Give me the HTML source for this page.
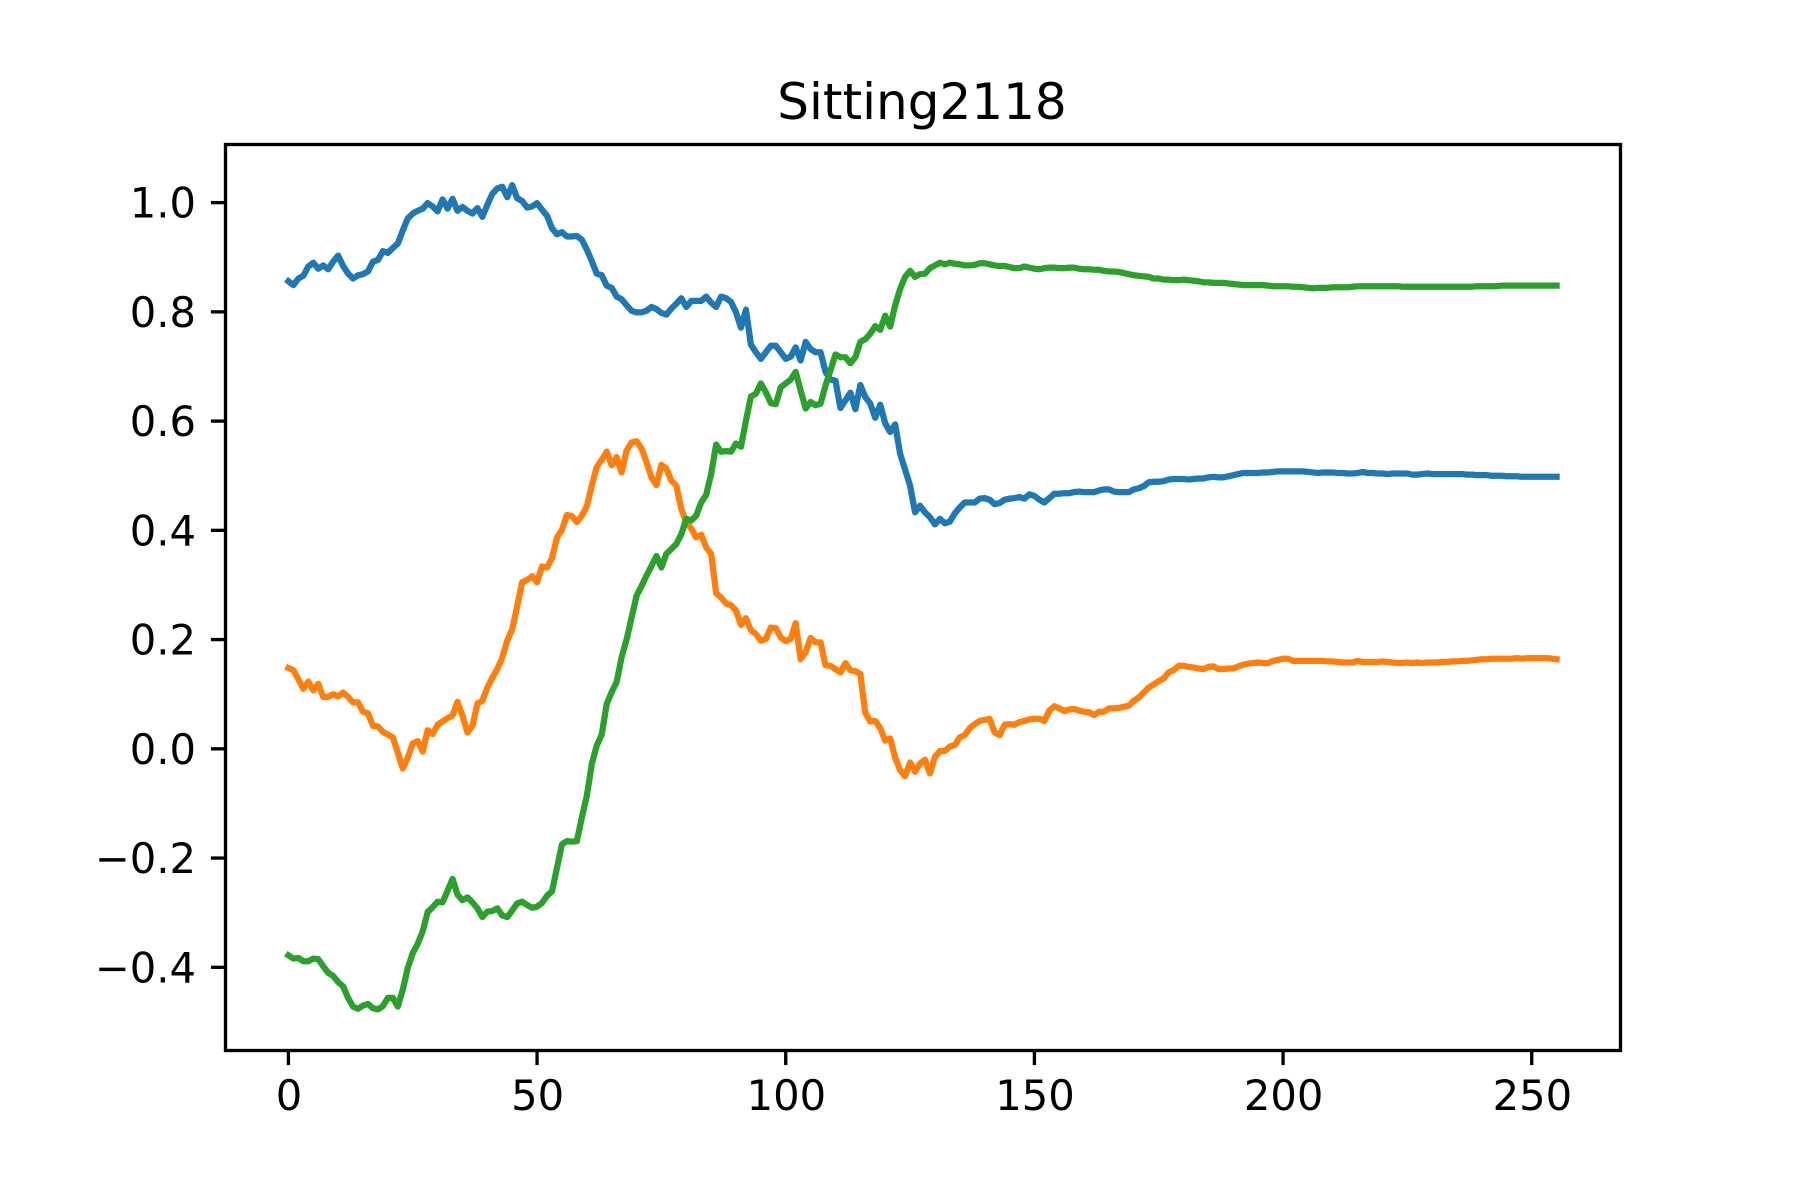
<!DOCTYPE html>
<html lang="en">
<head>
<meta charset="utf-8">
<title>Sitting2118</title>
<style>
  html, body { margin: 0; padding: 0; background: #ffffff; }
  #chart { display: block; width: 1800px; height: 1200px; }
  text { font-family: "DejaVu Sans", "Liberation Sans", sans-serif; fill: #000000; }
</style>
</head>
<body>
<svg id="chart" xmlns="http://www.w3.org/2000/svg" width="1800" height="1200" viewBox="0 0 1800 1200">
  <rect x="0" y="0" width="1800" height="1200" fill="#ffffff"></rect>
  <g id="series-layer"></g>
  <g id="tick-layer"></g>
  <rect x="225.5" y="144.5" width="1395" height="906" fill="none" stroke="#000000" stroke-width="3.33"></rect>
  <text x="922" y="119" font-size="50" text-anchor="middle">Sitting2118</text>
</svg>
<script>
const xTickValues = [0, 50, 100, 150, 200, 250];
const xTickLabels = ["0", "50", "100", "150", "200", "250"];
const yTickValues = [-0.4, -0.2, 0, 0.2, 0.4, 0.6, 0.8, 1.0];
const yTickLabels = ["\u22120.4", "\u22120.2", "0.0", "0.2", "0.4", "0.6", "0.8", "1.0"];

const seriesBlue = [
  .856,.849,.861,.866,.883,.890,.879,.885,.878,.892,
  .903,.884,.870,.861,.867,.869,.874,.892,.895,.911,
  .908,.917,.925,.949,.971,.980,.985,.989,.999,.993,
  .984,1.006,.989,1.007,.985,.992,.985,.980,.990,.974,
  .996,1.016,1.026,1.029,1.010,1.032,1.008,1.003,.991,.993,
  .999,.987,.976,.953,.942,.946,.938,.938,.939,.932,
  .914,.893,.870,.867,.848,.844,.828,.823,.812,.802,
  .799,.799,.802,.809,.805,.798,.795,.806,.815,.825,
  .809,.820,.820,.820,.828,.817,.809,.828,.825,.818,
  .799,.771,.804,.740,.726,.714,.726,.738,.738,.726,
  .714,.718,.735,.711,.745,.732,.726,.726,.690,.676,
  .674,.624,.638,.652,.622,.666,.644,.632,.606,.630,
  .596,.580,.594,.540,.511,.482,.433,.445,.433,.424,
  .411,.421,.413,.416,.431,.442,.451,.451,.451,.458,
  .459,.456,.448,.450,.456,.458,.459,.461,.458,.466,
  .463,.456,.451,.459,.467,.467,.468,.468,.470,.471,
  .470,.470,.470,.473,.475,.475,.471,.470,.470,.470,
  .475,.477,.481,.488,.489,.489,.490,.493,.494,.494,
  .494,.493,.494,.495,.495,.497,.498,.497,.497,.499,
  .501,.503,.505,.505,.505,.505,.506,.506,.507,.508,
  .508,.508,.508,.508,.508,.507,.506,.505,.506,.506,
  .506,.505,.505,.504,.504,.505,.507,.505,.505,.504,
  .504,.503,.504,.504,.504,.504,.502,.502,.503,.504,
  .503,.503,.503,.503,.503,.503,.503,.502,.502,.501,
  .501,.501,.500,.500,.500,.499,.499,.499,.498,.498,
  .498,.498,.498,.498,.498,.498
];

const seriesOrange = [
  .148,.144,.127,.110,.123,.107,.119,.095,.095,.100,
  .096,.103,.095,.085,.085,.068,.065,.042,.041,.031,
  .026,.021,-.007,-.036,-.016,.010,.014,-.005,.034,.027,
  .044,.050,.056,.061,.086,.061,.030,.042,.083,.088,
  .112,.130,.146,.167,.198,.219,.261,.305,.309,.316,
  .305,.334,.332,.349,.387,.401,.428,.426,.415,.427,
  .444,.482,.516,.529,.544,.519,.534,.506,.546,.561,
  .563,.550,.525,.497,.483,.520,.513,.491,.482,.439,
  .415,.403,.387,.392,.369,.357,.285,.277,.266,.263,
  .253,.227,.239,.217,.210,.198,.201,.222,.221,.204,
  .197,.201,.230,.164,.177,.203,.195,.195,.153,.152,
  .146,.140,.157,.144,.142,.137,.066,.050,.051,.038,
  .015,.019,-.016,-.039,-.050,-.025,-.042,-.027,-.020,-.045,
  -.015,-.004,-.004,.004,.007,.021,.025,.038,.045,.051,
  .053,.055,.030,.025,.044,.045,.044,.049,.051,.054,
  .055,.055,.051,.070,.078,.074,.069,.072,.073,.070,
  .068,.067,.062,.068,.068,.074,.074,.075,.077,.079,
  .088,.094,.103,.112,.118,.124,.129,.140,.144,.152,
  .152,.150,.149,.147,.146,.150,.151,.146,.146,.147,
  .147,.151,.154,.156,.157,.158,.157,.157,.161,.163,
  .165,.165,.161,.161,.161,.161,.161,.161,.161,.160,
  .160,.159,.158,.158,.158,.161,.159,.159,.159,.159,
  .160,.159,.158,.157,.157,.158,.157,.158,.157,.158,
  .158,.158,.159,.159,.160,.160,.161,.161,.162,.163,
  .164,.164,.165,.165,.165,.165,.165,.166,.165,.166,
  .166,.166,.166,.166,.165,.164
];

const seriesGreen = [
  -.378,-.384,-.383,-.389,-.389,-.384,-.385,-.398,-.410,-.416,
  -.427,-.435,-.456,-.472,-.476,-.470,-.467,-.475,-.477,-.471,
  -.456,-.456,-.472,-.441,-.401,-.374,-.357,-.334,-.299,-.290,
  -.280,-.281,-.260,-.238,-.267,-.277,-.272,-.281,-.292,-.308,
  -.298,-.297,-.292,-.305,-.308,-.296,-.283,-.280,-.286,-.291,
  -.289,-.282,-.269,-.261,-.218,-.175,-.169,-.170,-.169,-.126,
  -.086,-.028,.006,.026,.082,.104,.122,.168,.200,.240,
  .280,.298,.317,.335,.353,.332,.357,.366,.375,.393,
  .421,.418,.427,.451,.465,.503,.557,.544,.545,.544,
  .559,.553,.601,.645,.650,.669,.653,.633,.631,.662,
  .669,.676,.690,.656,.623,.635,.629,.632,.665,.693,
  .722,.717,.717,.706,.717,.745,.750,.760,.774,.767,
  .793,.773,.812,.842,.864,.875,.864,.869,.870,.880,
  .885,.890,.887,.890,.888,.887,.885,.885,.886,.889,
  .889,.887,.885,.884,.884,.882,.880,.880,.883,.881,
  .879,.878,.880,.881,.881,.880,.880,.881,.881,.879,
  .878,.878,.877,.877,.875,.874,.874,.873,.871,.869,
  .867,.866,.865,.864,.861,.861,.859,.859,.858,.858,
  .859,.858,.857,.856,.854,.854,.853,.853,.853,.852,
  .851,.850,.849,.849,.849,.849,.849,.848,.847,.847,
  .847,.847,.846,.846,.845,.844,.843,.844,.844,.844,
  .845,.845,.845,.845,.846,.847,.847,.847,.847,.847,
  .847,.847,.847,.847,.846,.846,.846,.846,.846,.846,
  .846,.846,.846,.846,.846,.846,.846,.846,.846,.847,
  .847,.847,.847,.847,.848,.848,.848,.848,.848,.848,
  .848,.848,.848,.848,.848,.848
];

const NS = "http://www.w3.org/2000/svg";
const plot = { left: 225, right: 1620, top: 144.5, bottom: 1050.5 };
const xDomain = [-12.75, 267.75];
const yDomain = [-0.5523, 1.1064];

function xScale(v) {
  return plot.left + (v - xDomain[0]) / (xDomain[1] - xDomain[0]) * (plot.right - plot.left);
}
function yScale(v) {
  return plot.bottom - (v - yDomain[0]) / (yDomain[1] - yDomain[0]) * (plot.bottom - plot.top);
}

function drawSeries(values, color, name) {
  const layer = document.getElementById("series-layer");
  const path = document.createElementNS(NS, "path");
  const d = values.map(function (v, i) {
    return (i === 0 ? "M" : "L") + xScale(i).toFixed(2) + " " + yScale(v).toFixed(2);
  }).join(" ");
  path.setAttribute("d", d);
  path.setAttribute("fill", "none");
  path.setAttribute("stroke", color);
  path.setAttribute("stroke-width", "6.25");
  path.setAttribute("stroke-linejoin", "round");
  path.setAttribute("stroke-linecap", "square");
  
  
  layer.appendChild(path);
}

function drawXTicks() {
  const layer = document.getElementById("tick-layer");
  xTickValues.forEach(function (v, i) {
    const px = xScale(v);
    const tick = document.createElementNS(NS, "line");
    tick.setAttribute("x1", px);
    tick.setAttribute("x2", px);
    tick.setAttribute("y1", plot.bottom);
    tick.setAttribute("y2", plot.bottom + 14.6);
    tick.setAttribute("stroke", "#000000");
    tick.setAttribute("stroke-width", "3.33");
    
    
    layer.appendChild(tick);
    const label = document.createElementNS(NS, "text");
    label.setAttribute("x", px + 0.6);
    label.setAttribute("y", 1110);
    label.setAttribute("font-size", "41.67");
    label.setAttribute("text-anchor", "middle");
    label.textContent = xTickLabels[i];
    
    
    layer.appendChild(label);
  });
}

function drawYTicks() {
  const layer = document.getElementById("tick-layer");
  yTickValues.forEach(function (v, i) {
    const py = yScale(v);
    const tick = document.createElementNS(NS, "line");
    tick.setAttribute("x1", plot.left + 0.5);
    tick.setAttribute("x2", plot.left + 0.5 - 14.6);
    tick.setAttribute("y1", py);
    tick.setAttribute("y2", py);
    tick.setAttribute("stroke", "#000000");
    tick.setAttribute("stroke-width", "3.33");
    
    
    layer.appendChild(tick);
    const label = document.createElementNS(NS, "text");
    label.setAttribute("x", 196);
    label.setAttribute("y", py + 15);
    label.setAttribute("font-size", "41.67");
    label.setAttribute("text-anchor", "end");
    label.textContent = yTickLabels[i];
    
    
    layer.appendChild(label);
  });
}

drawSeries(seriesBlue, "#1f77b4", "series-blue-line");
drawSeries(seriesOrange, "#ff7f0e", "series-orange-line");
drawSeries(seriesGreen, "#2ca02c", "series-green-line");
drawXTicks();
drawYTicks();
</script>
</body>
</html>
